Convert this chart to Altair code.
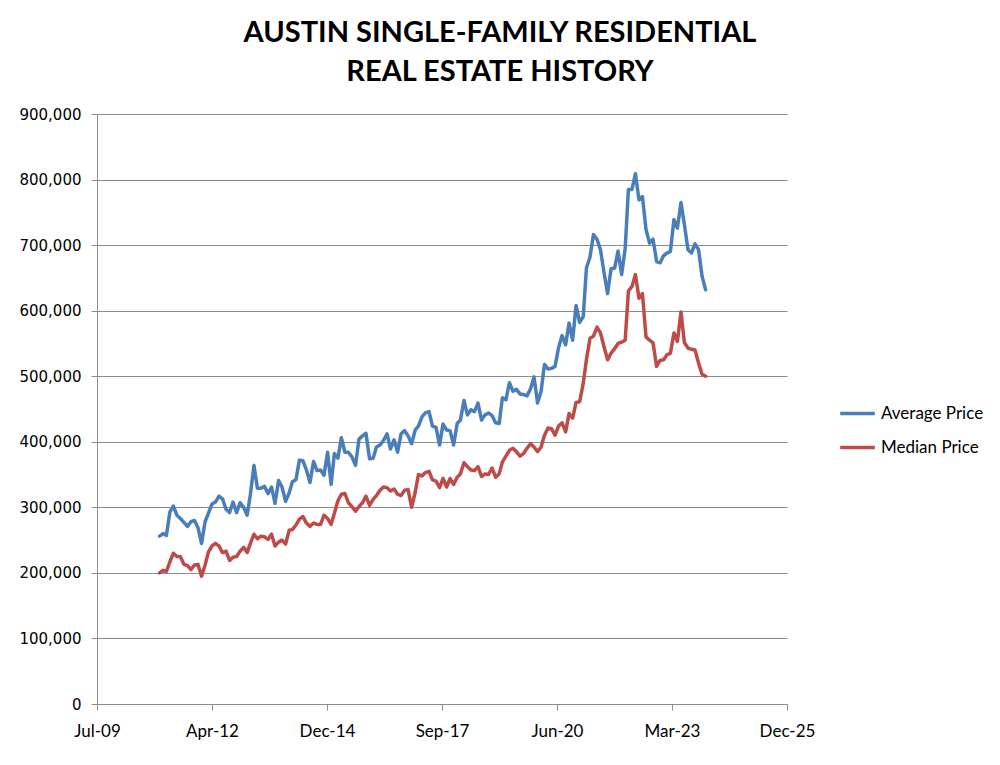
import altair as alt
import pandas as pd

# Monthly observations, Jan 2011 .. Jan 2024 (157 months)
start_year, start_month, n_months = 2011, 1, 157
months = [f"{start_year + (start_month - 1 + i) // 12}-{(start_month - 1 + i) % 12 + 1:02d}-01T00:00:00"
          for i in range(n_months)]

average_price_k = [
    256, 260, 257, 293, 302, 288, 283, 277, 271, 278,
    280, 269, 245, 278, 291, 305, 308, 317, 313, 297,
    292, 308, 292, 307, 300, 288, 320, 364, 329, 329,
    332, 321, 331, 306, 341, 331, 309, 322, 339, 342,
    372, 371, 357, 338, 370, 356, 357, 349, 384, 335,
    382, 375, 406, 384, 384, 377, 364, 404, 409, 413,
    374, 375, 392, 395, 402, 412, 389, 403, 384, 412,
    417, 409, 397, 418, 424, 438, 444, 446, 424, 422,
    395, 427, 418, 417, 395, 428, 433, 463, 441, 449,
    446, 459, 433, 441, 444, 440, 429, 428, 467, 464,
    490, 477, 480, 473, 472, 470, 481, 499, 459, 477,
    518, 511, 512, 515, 543, 562, 548, 581, 555, 608,
    582, 591, 665, 682, 716, 709, 693, 658, 626, 664,
    665, 691, 655, 695, 785, 785, 809, 769, 774, 724,
    703, 709, 675, 673, 684, 688, 690, 739, 726, 765,
    731, 693, 688, 702, 693, 653, 632,
]

median_price_k = [
    200, 204, 202, 217, 230, 225, 225, 213, 211, 205,
    212, 213, 195, 212, 232, 241, 245, 241, 231, 233,
    219, 224, 225, 233, 239, 231, 245, 259, 252, 256,
    255, 251, 259, 241, 247, 250, 244, 265, 266, 273,
    282, 286, 276, 271, 276, 274, 274, 288, 283, 274,
    291, 310, 320, 321, 307, 301, 294, 301, 307, 317,
    303, 312, 318, 326, 331, 330, 325, 328, 320, 318,
    326, 327, 300, 323, 350, 348, 353, 355, 342, 340,
    330, 344, 331, 344, 335, 346, 351, 368, 362, 357,
    356, 362, 347, 351, 350, 360, 346, 351, 369, 378,
    387, 390, 385, 378, 382, 390, 397, 392, 385, 392,
    410, 421, 420, 410, 424, 429, 415, 443, 436, 460,
    461, 489, 525, 558, 561, 575, 566, 545, 525, 535,
    542, 550, 552, 555, 630, 637, 655, 619, 626, 560,
    555, 551, 515, 524, 525, 533, 535, 566, 553, 598,
    551, 543, 541, 540, 520, 503, 500,
]

series_names = ["Average Price", "Median Price"]
series_colors = ["#4A7EBB", "#BE4B48"]

title_lines = ["AUSTIN SINGLE-FAMILY RESIDENTIAL", "REAL ESTATE HISTORY"]

# Axis ticks (Excel date serials 40000..46000 step 1000)
x_tick_dates = [(2009, 7, 6), (2012, 4, 1), (2014, 12, 27), (2017, 9, 22),
                (2020, 6, 18), (2023, 3, 15), (2025, 12, 9)]
y_ticks = [0, 100000, 200000, 300000, 400000, 500000, 600000, 700000, 800000, 900000]

rows = []
for name, vals in zip(series_names, [average_price_k, median_price_k]):
    for d, v in zip(months, vals):
        rows.append({"date": d, "price": v * 1000, "series": name})
df = pd.DataFrame(rows)

ui_font = "Lato"

x_vals = [alt.DateTime(year=y, month=m, date=d) for y, m, d in x_tick_dates]

chart = alt.Chart(df).mark_line(strokeWidth=3.5, strokeJoin="round", strokeCap="round").encode(
    x=alt.X("date:T",
            scale=alt.Scale(domain=[x_vals[0], x_vals[-1]], nice=False),
            axis=alt.Axis(values=x_vals, format="%b-%y", title=None, grid=False,
                          labelFont=ui_font, labelFontSize=17, labelColor="#000000",
                          labelPadding=13, tickSize=6, tickColor="#8c8c8c",
                          domainColor="#8c8c8c", labelFlush=False)),
    y=alt.Y("price:Q",
            scale=alt.Scale(domain=[0, 900000], nice=False),
            axis=alt.Axis(values=y_ticks, format=",d", title=None, grid=True,
                          gridColor="#8c8c8c", gridWidth=1,
                          labelFont="DejaVu Sans", labelFontSize=15, labelColor="#000000",
                          labelPadding=10, tickSize=6, tickColor="#8c8c8c",
                          domainColor="#8c8c8c")),
    color=alt.Color("series:N",
                    scale=alt.Scale(domain=series_names, range=series_colors),
                    legend=alt.Legend(title=None, orient="none", legendX=741, legendY=280,
                                      symbolType="stroke", symbolSize=1200,
                                      symbolStrokeWidth=3.5, labelFont=ui_font,
                                      labelFontSize=17, labelColor="#000000",
                                      labelOffset=4, rowPadding=6)),
).properties(
    width=690,
    height=590,
    title=alt.TitleParams(text=title_lines, font=ui_font, fontSize=29, fontWeight="bold",
                          color="#000000", lineHeight=39, anchor="middle", dx=58, offset=20),
    autosize=alt.AutoSizeParams(type="none"),
    padding={"left": 89, "top": 106, "right": 205, "bottom": 60},
).configure_view(stroke=None)

chart.save("out.html", embed_options={"renderer": "svg", "actions": False})
